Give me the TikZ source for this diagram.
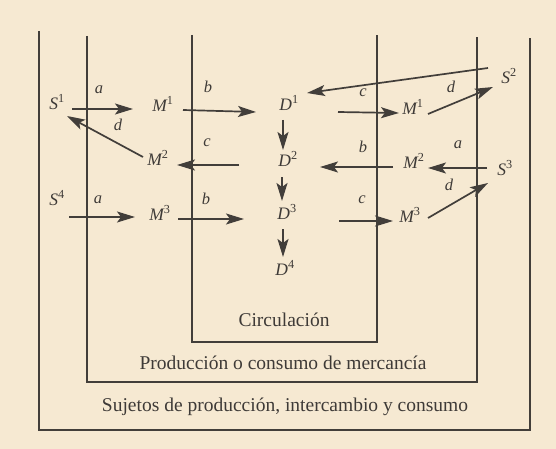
\documentclass[tikz,border=0pt]{standalone}
\usepackage{fontspec}
\setmainfont{Liberation Serif}
\usetikzlibrary{arrows.meta}
\definecolor{paper}{RGB}{246,233,210}
\definecolor{ink}{RGB}{66,62,58}
\definecolor{txt}{RGB}{62,58,55}
\tikzset{
  boxline/.style={draw=ink, line width=1.8pt},
  conn/.style={draw=ink, line width=1.7pt, -{Stealth[length=18pt,width=11pt,inset=4pt]}},
  sym/.style={text=txt, inner sep=0pt, font=\fontsize{17.5}{20}\selectfont\itshape},
  lbl/.style={text=txt, inner sep=0pt, font=\fontsize{16.5}{19}\selectfont\itshape},
  title/.style={text=txt, inner sep=0pt, font=\fontsize{19.5}{23}\selectfont},
}
\newcommand{\sy}[2]{#1\textsuperscript{\upshape #2}}
\begin{document}
\begin{tikzpicture}[x=1pt,y=-1pt]
\fill[paper] (0,0) rectangle (556,449);
\useasboundingbox (0,0) rectangle (556,449);
% boxes
\draw[boxline] (39,31) -- (39,430) -- (530,430) -- (530,38);
\draw[boxline] (87,36) -- (87,382) -- (477,382) -- (477,37);
\draw[boxline] (192,35) -- (192,342) -- (377,342) -- (377,35);
% titles
\node[title] (tcirc) at (284,320) {Circulación};
\node[title] (tprod) at (283,363) {Producción o consumo de mercancía};
\node[title] (tsuj) at (285,407) {Sujetos de producción, intercambio y consumo};
% symbols
\node[sym] (S1) at (57,102) {\sy{S}{1}};
\node[sym] (M1L) at (163,104) {\sy{M}{1}};
\node[sym] (M2L) at (158,158) {\sy{M}{2}};
\node[sym] (S4) at (57,198) {\sy{S}{4}};
\node[sym] (M3L) at (160,213) {\sy{M}{3}};
\node[sym] (D1) at (289,103) {\sy{D}{1}};
\node[sym] (D2) at (288,159) {\sy{D}{2}};
\node[sym] (D3) at (287,212) {\sy{D}{3}};
\node[sym] (D4) at (285,268) {\sy{D}{4}};
\node[sym] (S2) at (509,76) {\sy{S}{2}};
\node[sym] (M1R) at (413,107) {\sy{M}{1}};
\node[sym] (M2R) at (414,161) {\sy{M}{2}};
\node[sym] (S3) at (505,168) {\sy{S}{3}};
\node[sym] (M3R) at (410,215) {\sy{M}{3}};
% small labels
\node[lbl] (la1) at (99,90) {a};
\node[lbl] (ld1) at (118,125) {d};
\node[lbl] (lb1) at (208,87) {b};
\node[lbl] (lc1) at (207,143) {c};
\node[lbl] (la2) at (98,200) {a};
\node[lbl] (lb2) at (206,199) {b};
\node[lbl] (lc2) at (363,93) {c};
\node[lbl] (ld2) at (451,87) {d};
\node[lbl] (lb3) at (363,147) {b};
\node[lbl] (la3) at (458,145) {a};
\node[lbl] (ld3) at (449,185) {d};
\node[lbl] (lc3) at (362,200) {c};
% connector end points
\coordinate (s1o) at (72,109);   \coordinate (m1li) at (133,109);
\coordinate (m2lo) at (143,157); \coordinate (s1i) at (67,116);
\coordinate (m1lo) at (183,110); \coordinate (d1il) at (256,112);
\coordinate (d2ol) at (239,165); \coordinate (m2li) at (177,165);
\coordinate (m3lo) at (178,219); \coordinate (d3il) at (244,219);
\coordinate (s4o) at (69,217);   \coordinate (m3li) at (135,217);
\coordinate (d1b) at (283,120);  \coordinate (d2t) at (283,150);
\coordinate (d2b) at (282,177);  \coordinate (d3t) at (282,201);
\coordinate (d3b) at (283,229);  \coordinate (d4t) at (283,257);
\coordinate (s2o) at (488,68);   \coordinate (d1ir) at (307,93);
\coordinate (d1o) at (338,112);  \coordinate (m1ri) at (399,113);
\coordinate (m1ro) at (428,114); \coordinate (s2i) at (493,87);
\coordinate (m2ro) at (393,167); \coordinate (d2ir) at (320,167);
\coordinate (s3o) at (487,168);  \coordinate (m2ri) at (428,168);
\coordinate (d3o) at (339,221);  \coordinate (m3ri) at (393,221);
\coordinate (m3ro) at (428,218); \coordinate (s3i) at (488,183);
% connectors
\draw[conn] (s1o) -- (m1li);
\draw[conn] (m2lo) -- (s1i);
\draw[conn] (m1lo) -- (d1il);
\draw[conn] (d2ol) -- (m2li);
\draw[conn] (m3lo) -- (d3il);
\draw[conn] (s4o) -- (m3li);
\draw[conn] (d1b) -- (d2t);
\draw[conn] (d2b) -- (d3t);
\draw[conn] (d3b) -- (d4t);
\draw[conn] (s2o) -- (d1ir);
\draw[conn] (d1o) -- (m1ri);
\draw[conn] (m1ro) -- (s2i);
\draw[conn] (m2ro) -- (d2ir);
\draw[conn] (s3o) -- (m2ri);
\draw[conn] (d3o) -- (m3ri);
\draw[conn] (m3ro) -- (s3i);
\end{tikzpicture}
\end{document}
